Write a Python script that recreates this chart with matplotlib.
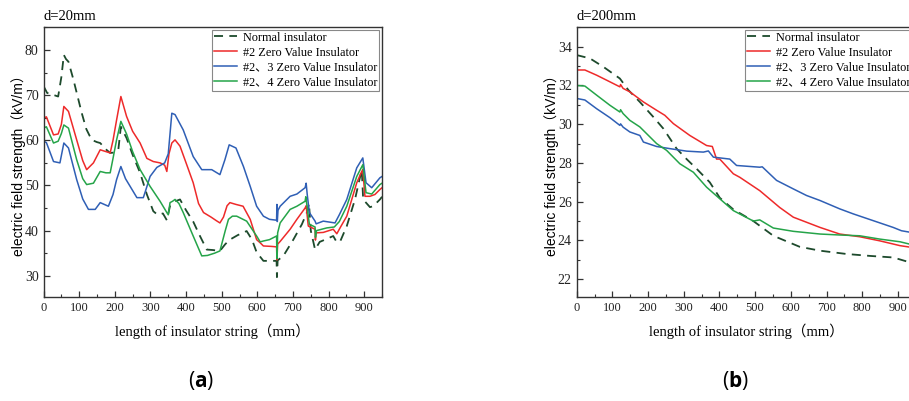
import matplotlib.pyplot as plt
import numpy as np

plt.rcParams['mathtext.fontset'] = 'custom'
plt.rcParams['mathtext.rm'] = 'Open Sans'
plt.rcParams['mathtext.bf'] = 'Open Sans:bold'

SERIF = ['Liberation Serif', 'Noto Sans CJK SC']
SANS = ['Liberation Sans', 'Noto Sans CJK SC']

labels = ['Normal insulator', '#2 Zero Value Insulator',
          '#2、3 Zero Value Insulator', '#2、4 Zero Value Insulator']
colors = ['#1d4a2c', '#ee2a2a', '#2f5fb5', '#25a449']

# ---- (a) d=20mm ----
a_normal_x = [0, 10, 26, 41, 50, 57, 63, 70, 84, 107, 120, 135, 150, 159, 175, 187, 200, 210,
              217, 233, 250, 271, 290, 308, 320, 335, 346, 355, 370, 383, 400, 420, 439, 458,
              475, 495, 510, 523, 545, 570, 585, 598, 617, 640, 654, 655, 657, 673, 701, 725,
              739, 745, 750, 762, 775, 790, 813, 823, 833, 851, 874, 893, 897, 916, 925, 944, 950]
a_normal_y = [72.0, 70.5, 70.1, 69.7, 74.0, 78.9, 78.0, 77.4, 73.4, 66.1, 62.5, 60.1, 59.6, 59.4,
              58.0, 57.2, 57.3, 58.0, 63.0, 60.5, 56.8, 52.8, 48.0, 44.3, 43.5, 43.8, 42.3, 45.5,
              46.5, 46.9, 44.5, 42.0, 38.8, 35.8, 35.7, 35.5, 37.0, 38.0, 39.0, 39.9, 38.0, 35.2,
              33.3, 33.3, 33.3, 29.7, 33.4, 34.4, 38.0, 41.4, 44.0, 46.0, 40.0, 35.8, 37.5, 38.0,
              38.8, 37.4, 37.7, 41.0, 46.9, 53.5, 46.9, 45.2, 45.4, 46.9, 47.5]

a_z2_x = [0, 8, 28, 41, 50, 57, 70, 93, 110, 121, 140, 159, 175, 187, 195, 205, 217, 233, 250,
          271, 290, 308, 327, 340, 346, 352, 360, 369, 383, 400, 420, 435, 449, 470, 485, 495,
          505, 515, 523, 540, 560, 580, 598, 608, 617, 640, 654, 655, 657, 664, 692, 711, 734,
          737, 743, 762, 763, 765, 785, 813, 823, 835, 851, 879, 893, 896, 902, 916, 930, 944, 950]
a_z2_y = [64.9, 65.2, 61.2, 61.4, 63.5, 67.5, 66.4, 60.1, 55.5, 53.5, 55.0, 57.9, 57.5, 57.2,
          60.0, 64.5, 69.7, 65.3, 62.0, 59.4, 56.0, 55.3, 55.0, 54.5, 53.1, 57.0, 59.4, 60.1,
          58.7, 55.0, 50.6, 46.0, 44.0, 43.0, 42.2, 41.7, 43.0, 45.5, 46.2, 45.8, 45.4, 42.5,
          38.0, 37.3, 36.6, 36.5, 36.4, 33.5, 37.0, 37.6, 40.3, 42.5, 45.0, 45.5, 41.0, 40.3,
          37.9, 39.5, 39.6, 40.3, 39.3, 41.0, 43.2, 50.6, 53.1, 53.5, 47.6, 47.6, 48.0, 49.1, 49.5]

a_z23_x = [0, 8, 28, 46, 57, 70, 93, 110, 126, 145, 159, 182, 195, 205, 217, 230, 243, 262, 280,
           285, 299, 318, 340, 350, 360, 369, 392, 420, 444, 472, 495, 509, 521, 540, 561, 580,
           598, 617, 634, 654, 655, 656, 658, 664, 692, 711, 734, 737, 740, 746, 762, 765, 785,
           818, 830, 851, 879, 896, 905, 921, 944, 950]
a_z23_y = [59.8, 59.5, 55.3, 55.0, 59.4, 58.3, 51.3, 47.0, 44.7, 44.7, 46.2, 45.4, 48.0, 51.3,
           54.2, 51.5, 49.8, 47.3, 47.3, 48.5, 52.0, 54.0, 55.0, 57.0, 66.0, 65.7, 62.3, 56.4,
           53.5, 53.5, 52.4, 55.7, 59.0, 58.3, 54.2, 49.8, 45.4, 43.2, 42.5, 42.3, 45.8, 42.0,
           44.5, 45.4, 47.6, 48.1, 49.5, 50.5, 48.0, 44.0, 42.1, 41.5, 42.1, 41.7, 43.5, 46.9,
           53.9, 56.1, 50.6, 49.5, 51.7, 52.0]

a_z24_x = [0, 8, 28, 41, 50, 57, 70, 93, 110, 121, 140, 159, 175, 187, 195, 205, 217, 233, 250,
           271, 299, 327, 346, 350, 355, 362, 369, 380, 392, 420, 444, 460, 480, 495, 510, 519,
           530, 542, 570, 598, 608, 617, 634, 654, 655, 657, 664, 692, 711, 734, 736, 746, 762,
           763, 766, 795, 816, 830, 851, 879, 896, 905, 921, 944, 950]
a_z24_y = [62.7, 63.0, 59.4, 59.8, 61.5, 63.4, 62.7, 55.7, 51.5, 50.2, 50.5, 53.1, 52.8, 52.8,
           56.0, 60.1, 64.2, 61.4, 57.5, 53.5, 49.8, 46.5, 44.0, 43.5, 46.2, 46.5, 46.9, 46.0,
           44.0, 38.8, 34.4, 34.5, 35.0, 35.5, 40.0, 42.5, 43.2, 43.2, 42.1, 38.8, 37.5, 37.7,
           38.0, 38.8, 33.8, 39.5, 41.7, 44.7, 45.4, 46.5, 47.5, 41.4, 40.8, 38.5, 40.0, 40.6,
           40.8, 42.0, 45.4, 52.0, 54.6, 48.4, 48.1, 50.2, 50.5]

# ---- (b) d=200mm ----
b_normal_x = [0, 37, 75, 121, 145, 177, 215, 243, 280, 308, 336, 373, 401, 439, 495, 551, 625,
              682, 756, 822, 887, 935]
b_normal_y = [33.57, 33.4, 32.96, 32.36, 31.76, 31.15, 30.37, 29.77, 28.74, 28.2, 27.7, 27.0,
              26.2, 25.6, 25.0, 24.24, 23.67, 23.47, 23.3, 23.2, 23.12, 22.86]

b_z2_x = [0, 23, 56, 93, 121, 123, 130, 149, 187, 224, 247, 271, 317, 364, 380, 392, 401, 439,
          457, 513, 569, 607, 682, 737, 793, 849, 906, 935]
b_z2_y = [32.8, 32.8, 32.53, 32.19, 31.93, 32.05, 31.85, 31.67, 31.15, 30.72, 30.46, 30.03,
          29.42, 28.9, 28.85, 28.2, 28.2, 27.44, 27.26, 26.57, 25.7, 25.2, 24.67, 24.33, 24.19,
          23.98, 23.73, 23.65]

b_z23_x = [0, 23, 56, 93, 121, 123, 130, 149, 177, 187, 224, 261, 308, 355, 369, 383, 429, 448,
           513, 520, 560, 607, 644, 682, 737, 775, 831, 887, 910, 935]
b_z23_y = [31.33, 31.25, 30.8, 30.34, 29.94, 30.02, 29.85, 29.6, 29.42, 29.08, 28.85, 28.74,
           28.61, 28.56, 28.62, 28.3, 28.2, 27.87, 27.78, 27.8, 27.1, 26.66, 26.32, 26.06,
           25.63, 25.37, 25.02, 24.67, 24.5, 24.42]

b_z24_x = [0, 23, 56, 93, 121, 123, 130, 149, 177, 224, 252, 289, 327, 364, 401, 439, 495, 513,
           551, 607, 682, 737, 793, 849, 906, 935]
b_z24_y = [32.0, 31.97, 31.5, 30.98, 30.63, 30.75, 30.55, 30.2, 29.86, 29.0, 28.65, 27.96,
           27.52, 26.75, 26.15, 25.54, 25.0, 25.06, 24.64, 24.47, 24.33, 24.28, 24.24, 24.07,
           23.93, 23.8]

fig = plt.figure(figsize=(9.09, 4.01), dpi=100)
ax1 = fig.add_axes([0.0479, 0.2594, 0.3724, 0.6733])
ax2 = fig.add_axes([0.6344, 0.2594, 0.373, 0.6733])


def draw(ax, series, title, ylim, ymaj, ymin):
    for i, (x, y) in enumerate(series):
        if i == 0:
            ax.plot(x, y, color=colors[i], lw=1.3, dashes=(5, 3.5), label=labels[i])
        else:
            ax.plot(x, y, color=colors[i], lw=1.1, label=labels[i])
    ax.set_xlim(0, 950)
    ax.set_ylim(*ylim)
    ax.set_xticks(np.arange(0, 901, 100))
    ax.set_xticks(np.arange(50, 951, 100), minor=True)
    ax.set_yticks(ymaj)
    ax.set_yticks(ymin, minor=True)
    ax.tick_params(which='both', direction='in', top=False, right=False, colors='#333333')
    ax.tick_params(which='major', length=4, width=0.9)
    ax.tick_params(which='minor', length=2, width=0.8)
    for t in ax.get_xticklabels():
        t.set_fontfamily(SERIF)
        t.set_fontsize(9)
        t.set_color('#222222')
    for t in ax.get_yticklabels():
        t.set_fontfamily(SERIF)
        t.set_fontsize(10)
        t.set_color('#222222')
    for s in ax.spines.values():
        s.set_color('#333333')
        s.set_linewidth(1.0)
    ax.set_title(title, loc='left', family=SERIF, fontsize=10.5, pad=5)
    ax.set_xlabel('length of insulator string（mm）', family=SERIF, fontsize=10.5, labelpad=7)
    ax.set_ylabel('electric field strength（kV/m）', family=SANS, fontsize=10, labelpad=-1)
    leg = ax.legend(loc='upper left', bbox_to_anchor=(0.497, 0.99), prop={'family': SERIF, 'size': 8.8},
                    frameon=True, fancybox=False, edgecolor='#888888', framealpha=1,
                    borderpad=0.15, labelspacing=0.25, handlelength=1.9, handletextpad=0.5,
                    borderaxespad=0)
    leg.get_frame().set_linewidth(0.8)


draw(ax1, [(a_normal_x, a_normal_y), (a_z2_x, a_z2_y), (a_z23_x, a_z23_y), (a_z24_x, a_z24_y)],
     'd=20mm', (25.3, 85.1), np.arange(30, 81, 10), np.arange(35, 86, 10))
draw(ax2, [(b_normal_x, b_normal_y), (b_z2_x, b_z2_y), (b_z23_x, b_z23_y), (b_z24_x, b_z24_y)],
     'd=200mm', (21.08, 35.02), np.arange(22, 35, 2), np.arange(23, 36, 2))

fig.text(0.221, 0.05, r'($\mathbf{a}$)', ha='center', va='center', fontsize=15, family='Open Sans')
fig.text(0.809, 0.05, r'($\mathbf{b}$)', ha='center', va='center', fontsize=15, family='Open Sans')

fig.savefig('out.png', dpi=100)
